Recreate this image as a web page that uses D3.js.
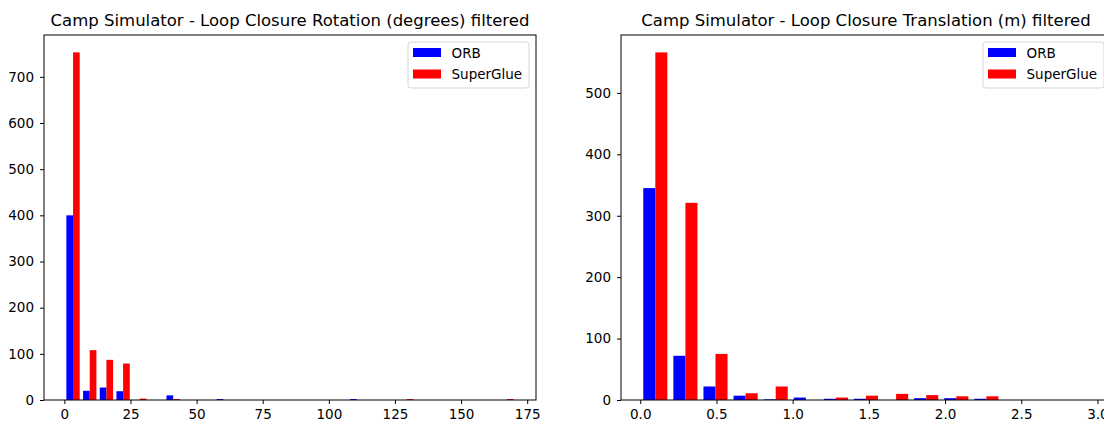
<!DOCTYPE html>
<html>
<head>
<meta charset="utf-8">
<script src="https://cdn.jsdelivr.net/npm/d3@7"></script>
<style>
  html, body { margin: 0; padding: 0; background: #fff; }
  svg { display: block; font-family: "DejaVu Sans", sans-serif; }
</style>
</head>
<body>
<svg id="fig" width="1104" height="425"></svg>
<script>
// Series names and colours
const seriesNames = ["ORB", "SuperGlue"];
const seriesColors = ["#0000ff", "#ff0000"];

// Rotation histogram: 27 equal bins starting at rotStart (degrees)
const rotStart = 0.13;
const rotBinWidth = 6.31;
const rotOrb = [400, 20, 27, 19, 0, 0, 10, 0, 0, 2, 0, 0, 0, 0, 0, 0, 0, 2, 0, 0, 0, 0, 0, 0, 0, 0, 0];
const rotSuperGlue = [753, 108, 87, 79, 3, 0, 2, 0, 0, 0, 0, 0, 0, 0, 0, 0, 0, 0, 0, 0, 2, 0, 0, 0, 0, 0, 2];
const rotXTicks = [0, 25, 50, 75, 100, 125, 150, 175];
const rotYTicks = [0, 100, 200, 300, 400, 500, 600, 700];

// Translation histogram: 15 equal bins starting at trStart (m)
const trStart = 0.0;
const trBinWidth = 0.1975;
const trOrb = [345, 72, 22, 7, 1, 4, 2, 2, 0, 3, 3, 2, 0, 0, 0];
const trSuperGlue = [566, 321, 75, 11, 22, 0, 4, 7, 10, 8, 6, 6, 0, 0, 0];
const trXTicks = [0.0, 0.5, 1.0, 1.5, 2.0, 2.5, 3.0];
const trYTicks = [0, 100, 200, 300, 400, 500];

const svg = d3.select("#fig");
const tickFont = 13.5;
const titleFont = 16.5;

function histPanel(opts) {
  const { left, right, top, bottom, title, start, width, series, xTicks, yTicks, xFormat } = opts;
  const n = series[0].length;
  const k = series.length;
  // grouped bars occupy the middle 80% of each bin
  const barW = 0.8 * width / k;
  const dataLo = start + 0.1 * width;
  const dataHi = start + n * width - 0.1 * width;
  const pad = 0.05 * (dataHi - dataLo);
  const yMax = d3.max(series.flat()) * 1.05;

  const x = d3.scaleLinear().domain([dataLo - pad, dataHi + pad]).range([left, right]);
  const y = d3.scaleLinear().domain([0, yMax]).range([bottom, top]);

  const g = svg.append("g");

  // bars
  series.forEach((vals, si) => {
    const x0 = i => start + i * width + 0.1 * width + si * barW;
    g.append("g").selectAll("rect")
      .data(vals.map((v, i) => ({ v, i })))
      .join("rect")
      .attr("x", d => x(x0(d.i)))
      .attr("width", d => x(x0(d.i) + barW) - x(x0(d.i)))
      .attr("y", d => y(d.v))
      .attr("height", d => y(0) - y(d.v))
      .attr("fill", seriesColors[si]);
  });

  // axes
  const xAxis = d3.axisBottom(x).tickValues(xTicks).tickSize(4).tickSizeOuter(0).tickPadding(5)
    .tickFormat(xFormat);
  const yAxis = d3.axisLeft(y).tickValues(yTicks).tickSize(4).tickSizeOuter(0).tickPadding(6)
    .tickFormat(d3.format("d"));

  const gx = g.append("g").attr("transform", `translate(0,${bottom})`).call(xAxis);
  const gy = g.append("g").attr("transform", `translate(${left},0)`).call(yAxis);
  [gx, gy].forEach(a => {
    a.select(".domain").remove();
    a.selectAll(".tick line").attr("stroke", "#000").attr("stroke-width", 1);
    a.selectAll(".tick text").attr("font-size", tickFont).attr("fill", "#000")
      .attr("font-family", "DejaVu Sans, sans-serif");
  });

  // frame
  g.append("rect")
    .attr("x", left).attr("y", top)
    .attr("width", right - left).attr("height", bottom - top)
    .attr("fill", "none").attr("stroke", "#000").attr("stroke-width", 1);

  // title
  g.append("text")
    .attr("x", (left + right) / 2).attr("y", top - 9.5)
    .attr("text-anchor", "middle")
    .attr("font-size", titleFont)
    .attr("fill", "#000")
    .text(title);

  // legend in upper right
  const legW = 121, legH = 46;
  const lx = right - 7 - legW, ly = top + 7;
  const lg = g.append("g").attr("transform", `translate(${lx},${ly})`);
  lg.append("rect").attr("width", legW).attr("height", legH)
    .attr("rx", 3).attr("fill", "#fff").attr("fill-opacity", 0.8)
    .attr("stroke", "#d6d6d6").attr("stroke-width", 1);
  seriesNames.forEach((name, i) => {
    const ry = 6 + i * 21.5;
    lg.append("rect").attr("x", 5).attr("y", ry).attr("width", 28).attr("height", 9)
      .attr("fill", seriesColors[i]);
    lg.append("text").attr("x", 43.5).attr("y", ry + 9.5)
      .attr("font-size", tickFont).attr("fill", "#000").text(name);
  });
}

histPanel({
  left: 44, right: 536, top: 35, bottom: 400,
  title: "Camp Simulator - Loop Closure Rotation (degrees) filtered",
  start: rotStart, width: rotBinWidth,
  series: [rotOrb, rotSuperGlue],
  xTicks: rotXTicks, yTicks: rotYTicks,
  xFormat: d3.format("d")
});

histPanel({
  left: 621, right: 1111, top: 35, bottom: 400,
  title: "Camp Simulator - Loop Closure Translation (m) filtered",
  start: trStart, width: trBinWidth,
  series: [trOrb, trSuperGlue],
  xTicks: trXTicks, yTicks: trYTicks,
  xFormat: d3.format(".1f")
});
</script>
</body>
</html>
